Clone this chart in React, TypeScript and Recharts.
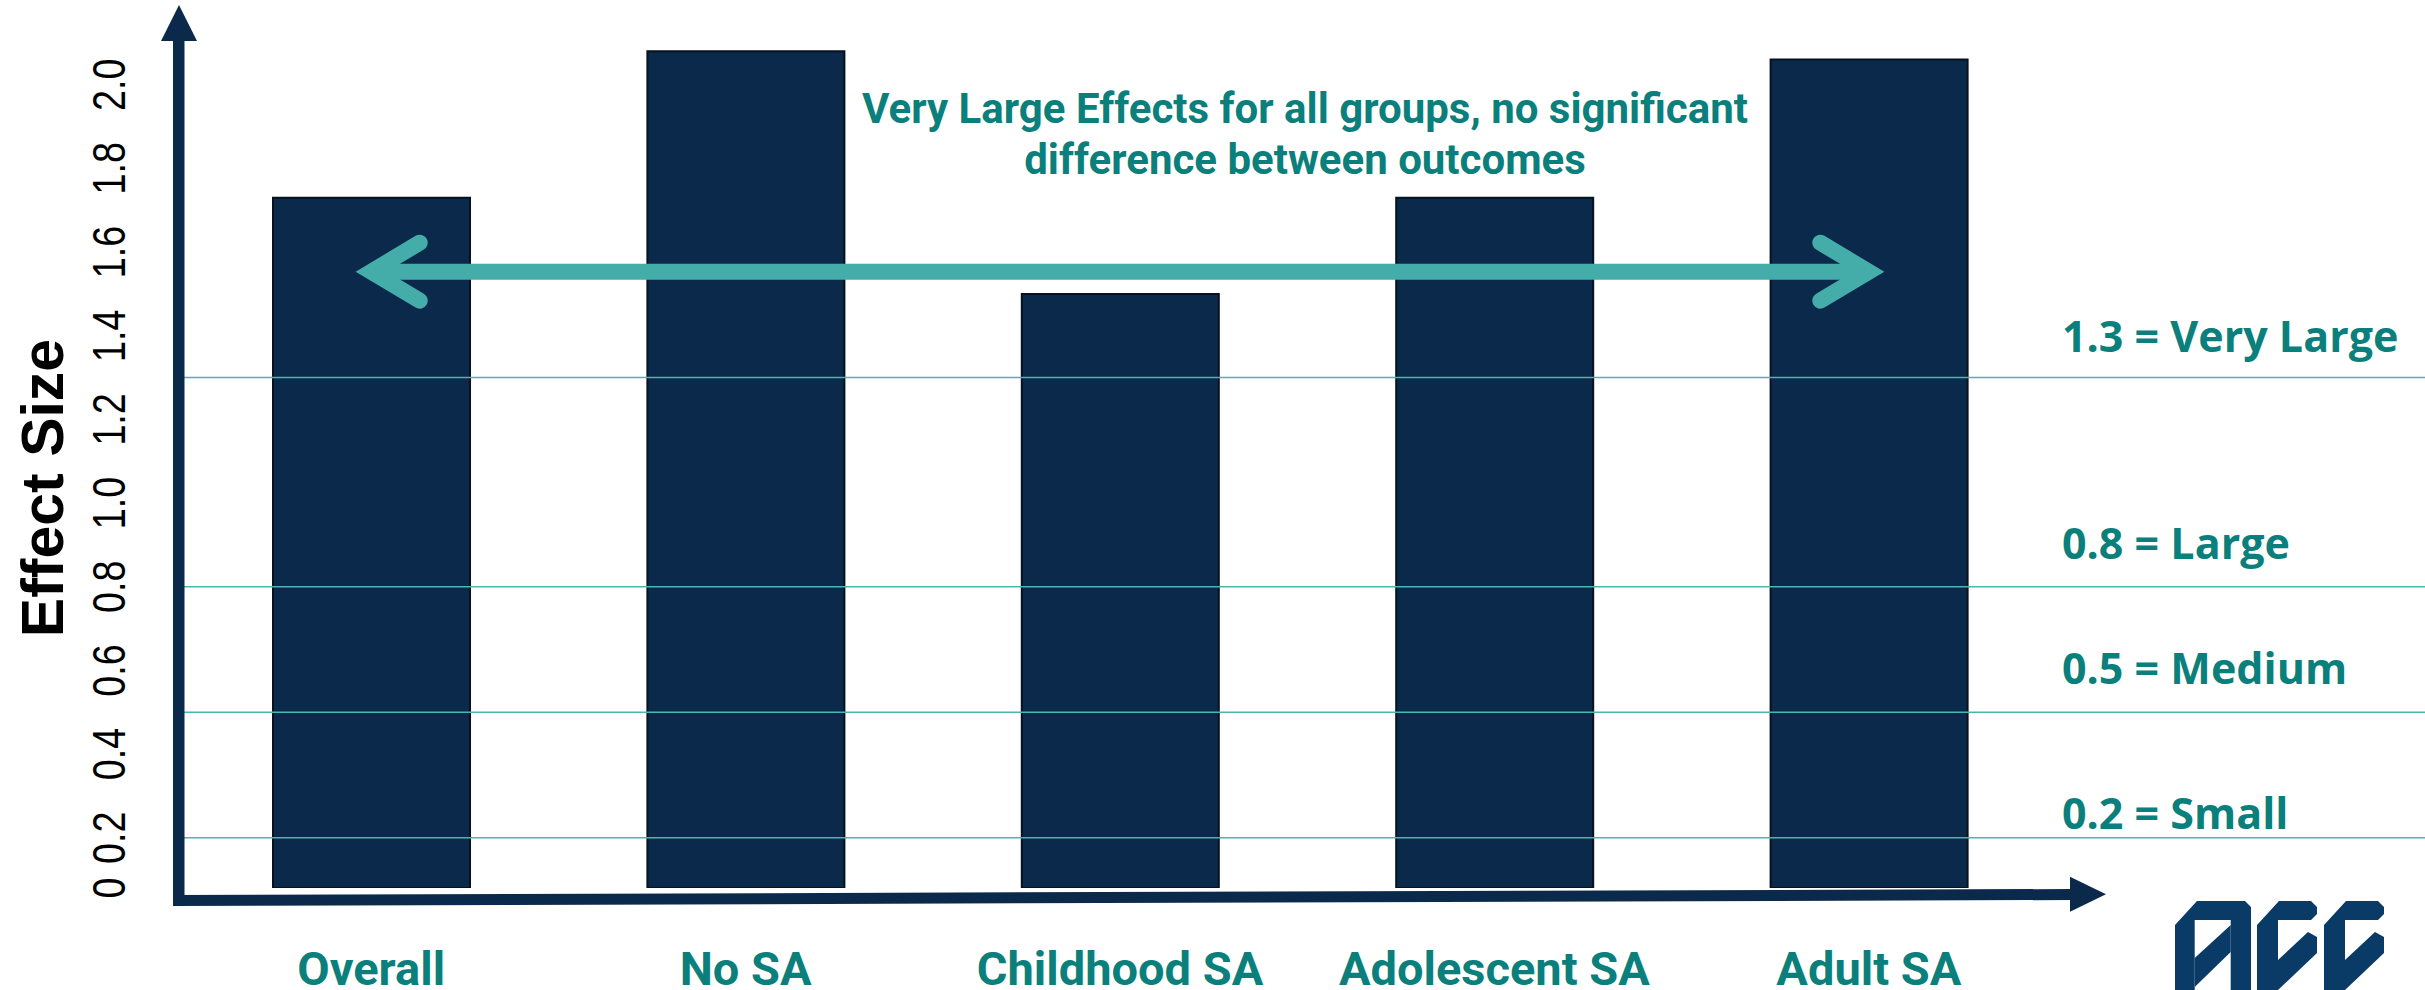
import React from "react";
import { BarChart, Bar, XAxis, YAxis, ReferenceLine } from "recharts";

const categories = ["Overall", "No SA", "Childhood SA", "Adolescent SA", "Adult SA"];
const effectSizes = [1.73, 2.08, 1.5, 1.73, 2.06];

// the slide's axis starts just above zero, so the bars start there too
const yBase = 0.08;
const yMax = 2.2;
const yTickValues = [yBase, 0.2, 0.4, 0.6, 0.8, 1.0, 1.2, 1.4, 1.6, 1.8, 2.0];
const yTickLabels = ["0", "0.2", "0.4", "0.6", "0.8", "1.0", "1.2", "1.4", "1.6", "1.8", "2.0"];

const benchmarkValues = [1.3, 0.8, 0.5, 0.2];
const benchmarkNames = ["Very Large", "Large", "Medium", "Small"];

const spanLevel = 1.553;
const spanFrom = "Overall";
const spanTo = "Adult SA";
const noteLines = ["Very Large Effects for all groups, no significant", "difference between outcomes"];

const W = 2425;
const H = 990;
const NAVY = "#0B2A4B";
const TEAL_TEXT = "#0B7F7B";
const GRID = "#4DB5AF";
const ARROW = "#45ADA9";
const LOGO = "#0A3A66";

// how far each benchmark caption sits above its line
const labelLift: Record<string, number> = { "1.3": 26, "0.8": 28, "0.5": 28, "0.2": 9 };

const data = categories.map((c, i) => ({ category: c, effect: effectSizes[i] }));

function ValueTick(props: any) {
  const { x, y, payload } = props;
  const idx = yTickValues.indexOf(payload.value);
  const bx = x - 54;
  // narrow face: squeeze along the (vertical) reading direction
  return (
    <text
      x={0}
      y={0}
      transform={`translate(${bx} ${y}) rotate(-90) scale(0.82 1)`}
      textAnchor="middle"
      fontFamily="'Liberation Sans', Arial, sans-serif"
      fontSize={46}
      fill="#000"
    >
      {idx >= 0 ? yTickLabels[idx] : payload.value}
    </text>
  );
}

function CategoryTick(props: any) {
  const { x, y, payload } = props;
  return (
    <text
      x={x}
      y={y + 96.5}
      textAnchor="middle"
      fontFamily="Roboto, sans-serif"
      fontWeight={700}
      fontSize={47}
      fill={TEAL_TEXT}
    >
      {payload.value}
    </text>
  );
}

function BenchLabel(props: any) {
  const vb = props.viewBox || { x: 179, y: 0, width: W - 179 };
  return (
    <text
      x={vb.x + vb.width - 363}
      y={vb.y - props.lift}
      fontFamily="'Open Sans', sans-serif"
      fontWeight={700}
      fontSize={43}
      fill={TEAL_TEXT}
    >
      {props.text}
    </text>
  );
}

function SpanArrow(props: any) {
  const { x1, y1, x2 } = props;
  const left = Math.min(x1, x2);
  const right = Math.max(x1, x2);
  const y = y1;
  const ax = 48.5;
  const ay = 29;
  return (
    <g fill="none" stroke={ARROW} strokeWidth={16}>
      <line x1={left} y1={y} x2={right} y2={y} />
      <polyline
        points={`${left + ax},${y - ay} ${left},${y} ${left + ax},${y + ay}`}
        strokeLinecap="round"
        strokeLinejoin="miter"
      />
      <polyline
        points={`${right - ax},${y - ay} ${right},${y} ${right - ax},${y + ay}`}
        strokeLinecap="round"
        strokeLinejoin="miter"
      />
    </g>
  );
}

function Overlay() {
  return (
    <svg
      width={W}
      height={H}
      style={{ position: "absolute", left: 0, top: 0, pointerEvents: "none" }}
    >
      {/* y axis with arrow */}
      <rect x={173} y={38} width={11.5} height={868} fill={NAVY} />
      <polygon points="161,41 197,41 179,5" fill={NAVY} />
      {/* x axis, slightly tilted as in the slide */}
      <polygon points="173,895 2072,889 2072,900 173,906" fill={NAVY} />
      <polygon points="2070,876.7 2070,911.7 2106,894.2" fill={NAVY} />

      <text
        x={63}
        y={488}
        transform="rotate(-90 63 488)"
        textAnchor="middle"
        fontFamily="'Liberation Sans', Arial, sans-serif"
        fontWeight={700}
        fontSize={59}
        fill="#000"
      >
        Effect Size
      </text>

      <text
        x={1305}
        textAnchor="middle"
        fontFamily="Roboto, sans-serif"
        fontWeight={700}
        fontSize={42}
        fill={TEAL_TEXT}
      >
        <tspan x={1305} y={123}>{noteLines[0]}</tspan>
        <tspan x={1305} y={174}>{noteLines[1]}</tspan>
      </text>

      {/* ACC logo */}
      <g fill={LOGO}>
        <polygon points="2175,995 2175,925 2197,901 2245,901 2251,907 2251,995 2230.7,995 2230.7,920 2194.7,920 2194.7,995" />
        <polygon points="2194.7,958 2230.7,925 2230.7,952 2194.7,987" />
        <polygon points="2257,995 2257,925 2279,901 2311,901 2317,907 2317,914 2311,920 2278,920 2278,995" />
        <polygon points="2278,960 2308,932 2317,937 2317,953 2278,990" />
        <polygon points="2324,995 2324,925 2346,901 2378,901 2384,907 2384,914 2378,920 2345,920 2345,995" />
        <polygon points="2345,960 2375,932 2384,937 2384,953 2345,990" />
      </g>
    </svg>
  );
}

export default function App() {
  return (
    <div style={{ position: "absolute", left: 0, top: 0, width: W, height: H, background: "#fff" }}>
      <BarChart width={W} height={H} data={data} margin={{ top: 1, right: 0, bottom: 0, left: 0 }}>
        <XAxis
          dataKey="category"
          height={102}
          padding={{ left: 5, right: 369 }}
          axisLine={false}
          tickLine={false}
          tickSize={0}
          tickMargin={0}
          interval={0}
          tick={<CategoryTick />}
        />
        <YAxis
          type="number"
          domain={[yBase, yMax]}
          allowDataOverflow
          ticks={yTickValues}
          interval={0}
          width={179}
          axisLine={false}
          tickLine={false}
          tickSize={0}
          tickMargin={0}
          tick={<ValueTick />}
        />
        <Bar
          dataKey="effect"
          barSize={197}
          fill={NAVY}
          stroke="#06121F"
          strokeWidth={2}
          isAnimationActive={false}
        />
        {benchmarkValues.map((v, i) => (
          <ReferenceLine
            key={v}
            y={v}
            stroke={GRID}
            strokeWidth={1.6}
            label={(p: any) => (
              <BenchLabel {...p} text={`${v.toFixed(1)} = ${benchmarkNames[i]}`} lift={labelLift[v.toFixed(1)]} />
            )}
          />
        ))}
        <ReferenceLine
          segment={[
            { x: spanFrom, y: spanLevel },
            { x: spanTo, y: spanLevel },
          ]}
          shape={(p: any) => <SpanArrow {...p} />}
        />
      </BarChart>
      <Overlay />
    </div>
  );
}
